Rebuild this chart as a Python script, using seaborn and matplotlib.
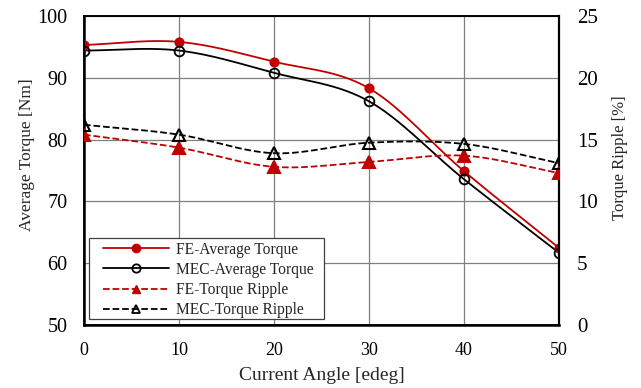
import numpy as np
import pandas as pd
import matplotlib
matplotlib.use("Agg")
import matplotlib.pyplot as plt
import seaborn as sns
from matplotlib.lines import Line2D
from matplotlib.patches import Rectangle

angle = [0, 10, 20, 30, 40, 50]
fe_avg = [95.3, 95.8, 92.6, 88.3, 74.9, 62.5]
mec_avg = [94.4, 94.4, 90.8, 86.2, 73.6, 61.7]
fe_ripple = [15.4, 14.35, 12.8, 13.2, 13.7, 12.3]
mec_ripple = [16.2, 15.4, 13.9, 14.75, 14.65, 13.1]

x_ticks = [0, 10, 20, 30, 40, 50]
left_ticks = [50, 60, 70, 80, 90, 100]
right_ticks = [0, 5, 10, 15, 20, 25]

RED = "#c00000"


def smooth(xs, ys, n=30):
    xs = np.asarray(xs, float)
    ys = np.asarray(ys, float)
    px = np.concatenate([[2 * xs[0] - xs[1]], xs, [2 * xs[-1] - xs[-2]]])
    py = np.concatenate([[2 * ys[0] - ys[1]], ys, [2 * ys[-1] - ys[-2]]])
    ox, oy = [], []
    for i in range(1, len(px) - 2):
        t = np.linspace(0, 1, n, endpoint=(i == len(px) - 3))
        for P, out in ((px, ox), (py, oy)):
            p0, p1, p2, p3 = P[i - 1], P[i], P[i + 1], P[i + 2]
            out.extend(0.5 * ((2 * p1) + (-p0 + p2) * t
                              + (2 * p0 - 5 * p1 + 4 * p2 - p3) * t ** 2
                              + (-p0 + 3 * p1 - 3 * p2 + p3) * t ** 3))
    return np.array(ox), np.array(oy)


sns.set_theme(style="white")
plt.rcParams["font.family"] = ["Liberation Serif", "DejaVu Serif"]

fig, ax = plt.subplots(figsize=(6.41, 3.88), dpi=100)
ax2 = ax.twinx()
fig.subplots_adjust(left=0.131, right=0.872, top=0.959, bottom=0.162)

for ys, color, mfc in ((fe_avg, RED, RED), (mec_avg, "black", "none")):
    sx, sy = smooth(angle, ys)
    sns.lineplot(x=sx, y=sy, ax=ax, color=color, lw=1.3, sort=False, estimator=None, zorder=3)
    ax.plot(angle, ys, ls="none", marker="o", ms=7 if mfc == "none" else 6,
            mfc=mfc, mec=color, mew=1.3, zorder=4)

for ys, color, mfc in ((fe_ripple, RED, RED), (mec_ripple, "black", "none")):
    sx, sy = smooth(angle, ys)
    sns.lineplot(x=sx, y=sy, ax=ax2, color=color, lw=1.3, ls="--", sort=False, estimator=None, zorder=3)
    ax2.plot(angle, ys, ls="none", marker="^", ms=9, mfc=mfc, mec=color, mew=1.5, zorder=4)

ax.set_xlim(0, 50)
ax.set_ylim(50, 100)
ax2.set_ylim(0, 25)
ax.set_xticks(x_ticks)
ax.set_yticks(left_ticks)
ax2.set_yticks(right_ticks)
ax.grid(True, color="#808080", lw=0.9)
ax2.grid(False)
ax.set_axisbelow(True)

ax.set_xlabel("Current Angle [edeg]", fontsize=14, labelpad=6)
ax.set_ylabel("Average Torque [Nm]", fontsize=12.5)
ax.yaxis.set_label_coords(-0.104, 0.55)
ax2.set_ylabel("Torque Ripple [%]", fontsize=12)
ax2.yaxis.set_label_coords(1.111, 0.54)
ax.tick_params(axis="x", labelsize=13, length=0, pad=12, colors="black")
ax.tick_params(axis="y", labelsize=14.5, length=0, pad=12, colors="black")
ax2.tick_params(axis="y", labelsize=15, length=0, pad=13, colors="black")
for a in (ax, ax2):
    for s in a.spines.values():
        s.set_color("black")
        s.set_linewidth(1.2)
ax.spines["left"].set_linewidth(1.8)
ax.spines["bottom"].set_linewidth(1.8)
ax2.spines["right"].set_linewidth(1.6)

handles = [
    Line2D([], [], color=RED, lw=1.3, marker="o", ms=6, mfc=RED, mec=RED),
    Line2D([], [], color="black", lw=1.3, marker="o", ms=6, mfc="none", mec="black", mew=1.3),
    Line2D([], [], color=RED, lw=1.3, ls="--", marker="^", ms=6, mfc=RED, mec=RED),
    Line2D([], [], color="black", lw=1.3, ls="--", marker="^", ms=6, mfc="none", mec="black", mew=1.3),
]
labels = ["FE-Average Torque", "MEC-Average Torque", "FE-Torque Ripple", "MEC-Torque Ripple"]
ax2.add_patch(Rectangle((0.0105, 0.019), 0.4945, 0.263, transform=ax2.transAxes,
                        facecolor="white", edgecolor="#404040", lw=0.9, zorder=5))
leg = ax2.legend(handles, labels, loc="lower left", bbox_to_anchor=(0.034, 0.012), borderaxespad=0,
                 fontsize=11.2, frameon=False,
                 handlelength=4.2, borderpad=0.2, labelspacing=0.27, handletextpad=0.45)
leg.set_zorder(6)

fig.savefig("out.png", dpi=100)
